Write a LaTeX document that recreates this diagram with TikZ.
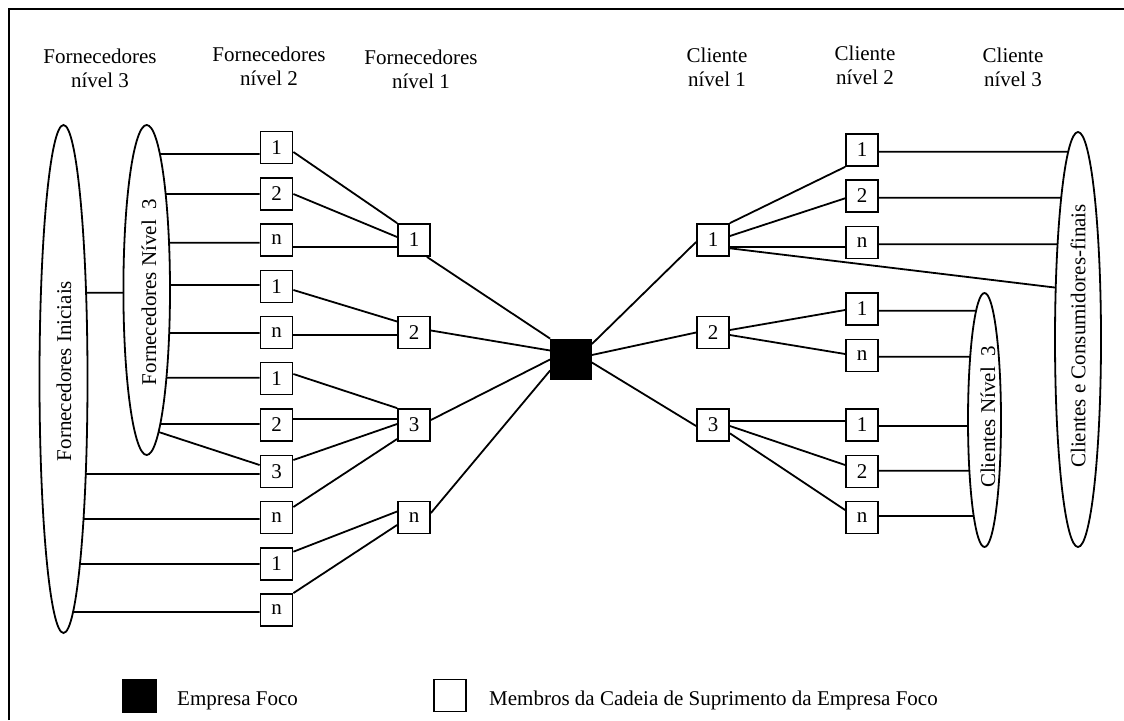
\documentclass[tikz,border=0pt]{standalone}
\usepackage{fontspec}
\setmainfont{Liberation Serif}
\usetikzlibrary{calc,intersections,shapes.geometric}
\begin{document}
\begin{tikzpicture}[x=1pt,y=-1pt,
  font=\fontsize{21}{24}\selectfont,
  line width=1.8pt,
  member/.style={draw,fill=white,minimum size=32pt,inner sep=0pt},
  focal/.style={draw,fill=black,minimum size=40pt,inner sep=0pt},
  group/.style={draw,ellipse,inner sep=0pt},
  tier/.style={align=center}]
\useasboundingbox (0,0) rectangle (1124,720);
% frame
\draw (9,720) -- (9,9) -- (1124,9);

% column headings
\node[tier] (hF3) at (100,68) {Fornecedores\\nível 3};
\node[tier] (hF2) at (269,66) {Fornecedores\\nível 2};
\node[tier] (hF1) at (421,69) {Fornecedores\\nível 1};
\node[tier] (hC1) at (717,67) {Cliente\\nível 1};
\node[tier] (hC2) at (865,65) {Cliente\\nível 2};
\node[tier] (hC3) at (1013,67) {Cliente\\nível 3};

% groups of outer tiers
\node[group,minimum width=48pt,minimum height=508pt] (FI) at (63.5,379) {};
\node[group,minimum width=46.6pt,minimum height=330pt] (FN3) at (146.7,290) {};
\node[group,minimum width=46pt,minimum height=415pt] (CC) at (1078,339.5) {};
\node[group,minimum width=33pt,minimum height=254pt] (CN3) at (984.5,420) {};
\path[name path=FIp] (FI.center) ellipse [x radius=24pt,y radius=254pt];
\path[name path=FN3p] (FN3.center) ellipse [x radius=23.3pt,y radius=165pt];
\path[name path=CCp] (CC.center) ellipse [x radius=23pt,y radius=207.5pt];
\path[name path=CN3p] (CN3.center) ellipse [x radius=16.5pt,y radius=127pt];
\node[rotate=90] (tFI) at (64,371) {Fornecedores Iniciais};
\node[rotate=90] (tFN3) at (149,292) {Fornecedores Nível\ \ 3};
\node[rotate=90] (tCC) at (1078,336) {Clientes e Consumidores-finais};
\node[rotate=90] (tCN3) at (988,417) {Clientes Nível\ \ 3};

% focal company
\node[focal] (F) at (571,359.5) {};

% suppliers, tier 2 and tier 1
\foreach \n/\y/\t in {s2a/147.5/1,s2b/194/2,s2c/240/n,s2d/286.5/1,s2e/332.5/n,
  s2f/378.5/1,s2g/425/2,s2h/471.5/3,s2i/517.5/n,s2j/564/1,s2k/610/n}
  \node[member] (\n) at (276.5,\y) {\t};
\foreach \n/\y/\t in {s1a/240/1,s1b/332.5/2,s1c/425/3,s1d/517.5/n}
  \node[member] (\n) at (414,\y) {\t};

% customers, tier 1 and tier 2
\foreach \n/\y/\t in {c1a/240/1,c1b/332.5/2,c1c/425/3}
  \node[member] (\n) at (713,\y) {\t};
\foreach \n/\y/\t in {c2a/150/1,c2b/196/2,c2c/242.5/n,c2d/309/1,c2e/355.5/n,
  c2f/425/1,c2g/471.5/2,c2h/517.5/n}
  \node[member] (\n) at (862,\y) {\t};

% links between the supplier groups
\path[name path=rayl] (FI.center |- 0,292.7) -- (FN3.center |- 0,292.7);
\path[name intersections={of=FIp and rayl,by=a1}];
\path[name intersections={of=FN3p and rayl,by=a2}];
\draw (a1) -- (a2);

% tier 3 suppliers to tier 2 suppliers
\foreach \b/\d in {s2a/6.5,s2b/0,s2c/2.7,s2d/-1.5,s2e/0.5,s2f/-0.8,s2g/-1}{
  \coordinate (p) at ($(\b.west)+(0,\d)$);
  \path[name path=ray] (p) -- (p -| FN3.center);
  \draw[name intersections={of=FN3p and ray,by=q}] (q) -- (p);
}
\path[name path=rayh] (FN3.center |- 0,432) -- ++(60,0);
\draw[name intersections={of=FN3p and rayh,by=qh}] (qh) -- ($(s2h.west)+(0,-6.5)$);
\foreach \b/\d in {s2h/2.5,s2i/1.5,s2j/0,s2k/2}{
  \coordinate (p) at ($(\b.west)+(0,\d)$);
  \path[name path=ray] (p) -- (p -| FI.center);
  \draw[name intersections={of=FIp and ray,by=q}] (q) -- (p);
}

% tier 2 suppliers to tier 1 suppliers
\draw ($(s2a.east)+(0,4.5)$) -- (s1a.north west);
\draw (s2b.east) -- ($(s1a.west)+(0,-3)$);
\draw ($(s2c.east)+(0,7)$) -- ($(s1a.west)+(0,7)$);
\draw ($(s2d.east)+(0,3.5)$) -- ($(s1b.west)+(0,-11)$);
\draw ($(s2e.east)+(0,2.5)$) -- ($(s1b.west)+(0,2.5)$);
\draw ($(s2f.east)+(0,-4.5)$) -- (s1c.north west);
\draw ($(s2g.east)+(0,-6)$) -- ($(s1c.west)+(0,-6)$);
\draw ($(s2h.east)+(0,-11.5)$) -- ($(s1c.west)+(0,-1)$);
\draw ($(s2i.east)+(0,-10.5)$) -- ($(s1c.west)+(0,14)$);
\draw ($(s2j.east)+(0,-12.3)$) -- ($(s1d.west)+(0,-6)$);
\draw (s2k.north east) -- ($(s1d.west)+(0,7.5)$);

% tier 1 suppliers to the focal company
\draw ($(s1a.south east)+(-4,0)$) -- (F.north west);
\draw ($(s1b.east)+(0,-2)$) -- ($(F.west)+(0,-9)$);
\draw ($(s1c.east)+(0,-5)$) -- (F.west);
\draw ($(s1d.east)+(0,-4.5)$) -- ($(F.west)+(0,11)$);

% focal company to tier 1 customers
\draw ($(F.east)+(0,-15.5)$) -- ($(c1a.west)+(0,2)$);
\draw ($(F.east)+(0,-4.5)$) -- (c1b.west);
\draw ($(F.east)+(0,3)$) -- ($(c1c.west)+(0,1)$);

% tier 1 customers to tier 2 customers
\draw (c1a.north east) -- (c2a.south west);
\draw ($(c1a.east)+(0,-4)$) -- ($(c2b.west)+(0,2.3)$);
\draw ($(c1a.east)+(0,6.7)$) -- ($(c2c.west)+(0,4.2)$);
\draw ($(c1a.east)+(0,8.3)$) -- (CC.114);
\draw ($(c1b.east)+(0,-2.5)$) -- ($(c2d.west)+(0,1)$);
\draw ($(c1b.east)+(0,2.5)$) -- ($(c2e.west)+(0,-1.5)$);
\draw ($(c1c.east)+(0,-4.3)$) -- ($(c2f.west)+(0,-4.3)$);
\draw ($(c1c.east)+(0,1)$) -- ($(c2g.west)+(0,-6.5)$);
\draw ($(c1c.east)+(0,8.3)$) -- ($(c2h.west)+(0,-7.5)$);

% tier 2 customers to tier 3 groups
\foreach \b/\d in {c2a/1.7,c2b/1.7,c2c/1.8}{
  \coordinate (p) at ($(\b.east)+(0,\d)$);
  \path[name path=ray] (p) -- (p -| CC.center);
  \draw[name intersections={of=CCp and ray,by=q}] (p) -- (q);
}
\foreach \b/\d in {c2d/1.7,c2e/1.2,c2f/1,c2g/-0.8,c2h/-1.5}{
  \coordinate (p) at ($(\b.east)+(0,\d)$);
  \path[name path=ray] (p) -- (p -| CN3.center);
  \draw[name intersections={of=CN3p and ray,by=q}] (p) -- (q);
}

% legend
\node[focal,minimum size=33pt] (kF) at (139.5,696) {};
\node[anchor=base west] (kFt) at (173,705) {Empresa Foco};
\node[member] (kM) at (450,695.5) {};
\node[anchor=base west] (kMt) at (485,705) {Membros da Cadeia de Suprimento da Empresa Foco};
\end{tikzpicture}
\end{document}
